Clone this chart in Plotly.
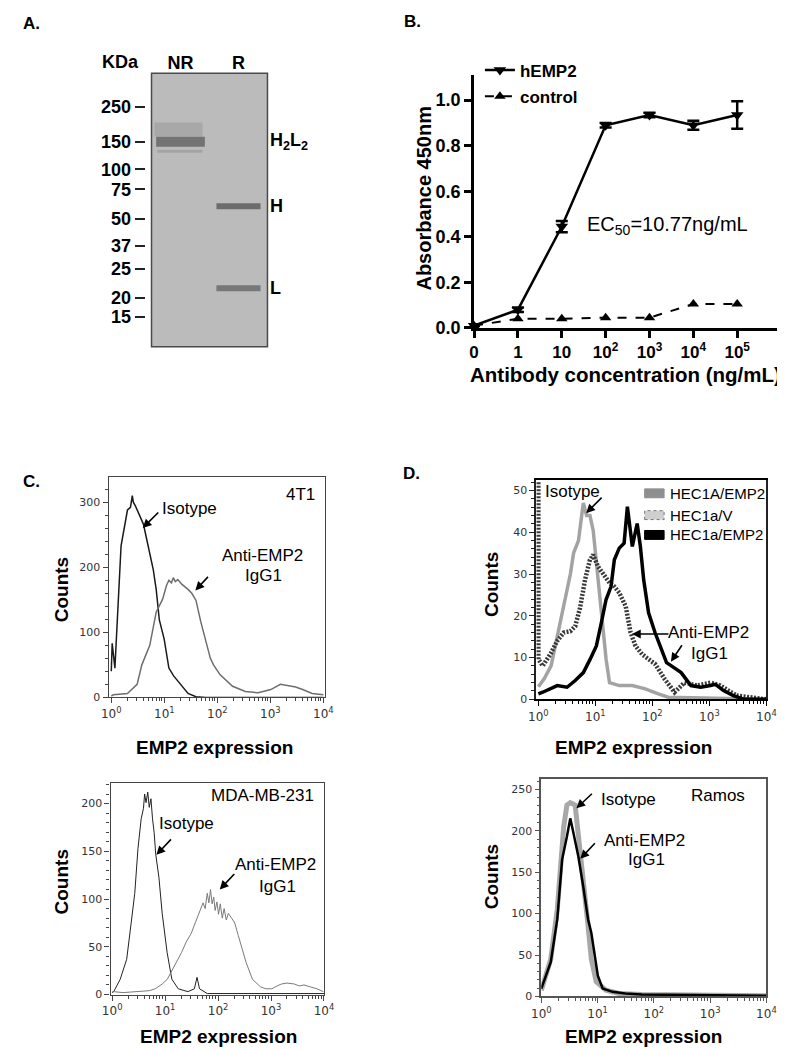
import plotly.graph_objects as go

W, H = 785, 1050

# ---------------- Panel A: SDS-PAGE gel ----------------
ladder_kda = [250, 150, 100, 75, 50, 37, 25, 20, 15]
ladder_rf = [0.123, 0.250, 0.351, 0.424, 0.533, 0.630, 0.714, 0.822, 0.891]
lane_names = ["NR", "R"]
band_lane = [0, 1, 1]
band_rf = [0.250, 0.486, 0.786]
band_names = ["H<sub>2</sub>L<sub>2</sub>", "H", "L"]
nr_smear_rf = [0.205, 0.285]

# ---------------- Panel B: ELISA ----------------
conc_labels = ["0", "1", "10", "10<sup>2</sup>", "10<sup>3</sup>", "10<sup>4</sup>", "10<sup>5</sup>"]
hemp2_abs = [0.01, 0.08, 0.445, 0.89, 0.935, 0.89, 0.935]
hemp2_err = [0.0, 0.01, 0.025, 0.01, 0.01, 0.02, 0.06]
control_abs = [0.01, 0.04, 0.04, 0.045, 0.045, 0.105, 0.105]

# ---------------- Panel C top: 4T1 ----------------
c1_iso_x = [1.0, 1.04, 1.17, 1.34, 1.53, 2.02, 2.3, 2.49, 2.6, 2.86, 3.4, 4.05, 4.6, 5.32, 6.2, 7.03, 8.06, 9.92, 12.2, 15.0, 18.5, 28.0, 39.6, 60, 10000]
c1_iso_y = [40, 83, 45, 141, 233, 288, 292, 310, 300, 294, 280, 266, 245, 222, 196, 166, 119, 90, 45, 33, 24, 6, 1, 0, 0]
c1_anti_x = [1.0, 1.09, 2.02, 3.07, 3.77, 5.32, 7.03, 9.29, 11.0, 12.2, 13.6, 14.8, 16.1, 18.0, 21.3, 24.5, 28.0, 33.0, 39.6, 48.8, 60.0, 73.9, 84.7, 112, 194, 337, 588, 1021, 1545, 1800, 2340, 3000, 4064, 6150, 10000]
c1_anti_y = [2, 4, 6, 20, 50, 80, 131, 151, 172, 180, 176, 184, 178, 181, 174, 170, 166, 160, 149, 116, 90, 60, 50, 35, 17, 9, 7, 12, 20, 19, 18, 16, 12, 6, 4]

# ---------------- Panel C bottom: MDA-MB-231 ----------------
c2_iso_x = [1.0, 1.07, 1.42, 1.88, 2.32, 2.67, 3.07, 3.3, 3.53, 3.9, 4.1, 4.36, 4.7, 5.01, 5.4, 5.78, 6.2, 6.64, 7.62, 8.80, 10.9, 13.4, 17.7, 26.9, 35.7, 40.0, 44.6, 62.4, 10000]
c2_iso_y = [2, 3, 16, 37, 78, 106, 153, 170, 184, 195, 210, 201, 212, 196, 205, 184, 170, 147, 123, 85, 44, 16, 6, 3, 6, 18, 6, 1, 1]
c2_anti_x = [1.0, 1.07, 1.6, 2.49, 3.5, 5.01, 6.5, 8.8, 11.0, 13.4, 16.5, 20.4, 25.0, 31.1, 37.0, 44.0, 52.0, 57.0, 62.4, 67.0, 72.0, 77.0, 82.8, 88.0, 95.0, 102, 110, 120, 130, 143, 156, 180, 206, 240, 272, 336, 445, 631, 800, 1032, 1300, 1570, 2000, 2750, 3400, 4190, 5500, 7360, 9700]
c2_anti_y = [3, 3, 2, 3, 3, 4, 6, 11, 16, 25, 35, 44, 55, 64, 75, 85, 96, 90, 106, 96, 110, 95, 102, 88, 97, 84, 95, 80, 90, 78, 85, 80, 75, 62, 51, 34, 16, 8, 6, 6, 9, 11, 12, 11, 9, 10, 8, 6, 3]

# ---------------- Panel D top: HEC1a ----------------
d1_iso_x = [1.0, 1.27, 1.67, 2.14, 2.79, 3.64, 4.14, 5.05, 5.75, 6.15, 7.01, 8.02, 9.14, 10.4, 11.9, 13.6, 15.4, 17.7, 26.2, 44.4, 75.0, 127, 189, 10000]
d1_iso_y = [3, 5, 8, 15, 22, 30, 35, 38, 44, 47, 44, 44, 40.5, 33, 25.5, 17.5, 9.6, 4, 3.3, 3.3, 2.5, 1.3, 0.5, 0]
d1_v_x = [1.0, 1.0, 1.19, 1.65, 2.14, 2.79, 3.64, 4.43, 5.40, 6.58, 8.02, 9.14, 11.1, 13.6, 17.7, 21.5, 26.2, 34.0, 41.4, 50.5, 65.8, 85.7, 111, 165, 245, 364, 618, 1045, 1550, 3000, 10000]
d1_v_y = [52, 9.6, 8, 11, 14, 16, 16.3, 17.5, 22, 28.6, 33.4, 34.6, 31.8, 30.2, 27.9, 27, 25.5, 22.3, 16, 12.8, 10.8, 9.6, 8.5, 4.8, 1.7, 4, 3.3, 4, 3.3, 0.9, 0]
d1_anti_x = [1.0, 1.19, 2.14, 3.18, 4.43, 6.15, 8.02, 10.4, 12.7, 15.4, 18.8, 21.5, 26.2, 31.9, 36.4, 44.4, 54.0, 61.5, 70.3, 85.7, 111, 136, 177, 215, 319, 474, 703, 1045, 1274, 1766, 2624, 3890, 10000]
d1_anti_y = [1.3, 1.7, 3.3, 2.9, 4.5, 6.4, 9.5, 12.8, 18.3, 23.9, 27, 33.4, 36.2, 37.4, 46.1, 36.6, 42.1, 36.6, 28.6, 20.7, 16, 12.8, 8.8, 8, 6.4, 3.3, 2.9, 3.3, 3.6, 2.1, 0.9, 0.1, 0]

# ---------------- Panel D bottom: Ramos ----------------
d2_iso_x = [1.0, 1.47, 1.92, 2.19, 2.50, 2.85, 3.27, 3.99, 4.55, 5.19, 5.94, 6.78, 7.73, 9.44, 14.1, 24.0, 60.8, 10000]
d2_iso_y = [7.5, 45, 105, 165, 205, 231, 234, 231, 197, 165, 125, 85, 45, 18, 7.5, 3.6, 2.4, 1]
d2_anti_x = [1.0, 1.47, 1.92, 2.34, 2.85, 3.27, 3.73, 4.55, 5.55, 6.78, 7.73, 8.86, 10.1, 12.3, 18.4, 31.2, 60.8, 10000]
d2_anti_y = [9.6, 41.5, 93, 165, 193, 215, 197, 169, 133, 93, 77, 53, 25, 9.6, 5.6, 3.6, 2.4, 1]

facs_ticks = [1, 10, 100, 1000, 10000]
facs_ticktext = ["10<sup>0</sup>", "10<sup>1</sup>", "10<sup>2</sup>", "10<sup>3</sup>", "10<sup>4</sup>"]
facs_minor = [m * 10 ** e for e in range(4) for m in range(2, 10)]

FONT = "Arial, 'Liberation Sans', sans-serif"
TICKFONT = dict(family="DejaVu Sans", size=11, color="#333")


def px(a):
    return a / W


def py(b):
    return 1 - b / H


def xd(a, b):
    return [px(a), px(b)]


def yd(top, bottom):
    return [py(bottom), py(top)]


fig = go.Figure()

# ---- gel bands ----
band_halfwidth = [0.42, 0.38, 0.38]
band_color = ["#737373", "#6c6c6c", "#777777"]
band_width = [10, 6, 6]
fig.add_trace(go.Scatter(x=[band_lane[0] - 0.45, band_lane[0] + 0.38], y=[nr_smear_rf[0]] * 2,
                         mode="lines", line=dict(color="#a8a8a8", width=14), xaxis="x", yaxis="y",
                         showlegend=False, hoverinfo="skip"))
fig.add_trace(go.Scatter(x=[band_lane[0] - 0.4, band_lane[0] + 0.38], y=[nr_smear_rf[1]] * 2,
                         mode="lines", line=dict(color="#a4a4a4", width=3), xaxis="x", yaxis="y",
                         showlegend=False, hoverinfo="skip"))
for ln, rf, hw, c, w in zip(band_lane, band_rf, band_halfwidth, band_color, band_width):
    fig.add_trace(go.Scatter(x=[ln - hw, ln + hw], y=[rf, rf], mode="lines",
                             line=dict(color=c, width=w), xaxis="x", yaxis="y",
                             showlegend=False, hoverinfo="skip"))

# ---- ELISA ----
xcat = list(range(len(conc_labels)))
fig.add_trace(go.Scatter(x=xcat, y=hemp2_abs, name="hEMP2", mode="lines+markers",
                         line=dict(color="black", width=2.5),
                         marker=dict(symbol="triangle-down", size=11, color="black"),
                         error_y=dict(type="data", array=hemp2_err, color="black", thickness=2.5, width=6),
                         xaxis="x2", yaxis="y2", cliponaxis=False, legendgroup="a"))
fig.add_trace(go.Scatter(x=xcat, y=control_abs, name="control", mode="lines+markers",
                         line=dict(color="black", width=2, dash="dash"),
                         marker=dict(symbol="triangle-up", size=10, color="black"),
                         xaxis="x2", yaxis="y2", cliponaxis=False, legendgroup="b"))

# ---- FACS C ----
fig.add_trace(go.Scatter(x=c1_iso_x, y=c1_iso_y, mode="lines", line=dict(color="#1a1a1a", width=1.5),
                         xaxis="x3", yaxis="y3", showlegend=False))
fig.add_trace(go.Scatter(x=c1_anti_x, y=c1_anti_y, mode="lines", line=dict(color="#6e6e6e", width=1.5),
                         xaxis="x3", yaxis="y3", showlegend=False))
fig.add_trace(go.Scatter(x=c2_iso_x, y=c2_iso_y, mode="lines", line=dict(color="#222", width=1),
                         xaxis="x4", yaxis="y4", showlegend=False))
fig.add_trace(go.Scatter(x=c2_anti_x, y=c2_anti_y, mode="lines", line=dict(color="#7a7a7a", width=1),
                         xaxis="x4", yaxis="y4", showlegend=False))

# ---- FACS D ----
fig.add_trace(go.Scatter(x=d1_iso_x, y=d1_iso_y, mode="lines", line=dict(color="#a3a3a3", width=3.5),
                         xaxis="x5", yaxis="y5", showlegend=False))
fig.add_trace(go.Scatter(x=d1_v_x, y=d1_v_y, mode="lines", line=dict(color="#3a3a3a", width=4.5, dash="2px,1.5px"),
                         xaxis="x5", yaxis="y5", showlegend=False))
fig.add_trace(go.Scatter(x=d1_anti_x, y=d1_anti_y, mode="lines", line=dict(color="black", width=3.5),
                         xaxis="x5", yaxis="y5", showlegend=False))
fig.add_trace(go.Scatter(x=d2_iso_x, y=d2_iso_y, mode="lines", line=dict(color="#a8a8a8", width=5),
                         xaxis="x6", yaxis="y6", showlegend=False))
fig.add_trace(go.Scatter(x=d2_anti_x, y=d2_anti_y, mode="lines", line=dict(color="black", width=2.5),
                         xaxis="x6", yaxis="y6", showlegend=False))


def facs_x(dom, anchor, rng, lc, lw):
    return dict(type="log", domain=dom, range=rng, anchor=anchor, tickmode="array",
                tickvals=facs_ticks, ticktext=facs_ticktext, ticks="outside", ticklen=5,
                tickcolor=lc, showline=True, mirror=True, linecolor=lc, linewidth=lw,
                minor=dict(ticks="outside", ticklen=3, tickmode="array", tickvals=facs_minor, tickcolor=lc),
                tickfont=dict(family="DejaVu Sans", size=12, color="#333"),
                showgrid=False, zeroline=False)


def facs_y(dom, anchor, rng, dt, mdt, lc, lw):
    return dict(domain=dom, range=rng, anchor=anchor, dtick=dt, tick0=0, ticks="outside", ticklen=5,
                tickcolor=lc, showline=True, mirror=True, linecolor=lc, linewidth=lw,
                minor=dict(ticks="outside", ticklen=3, dtick=mdt, tickcolor=lc),
                tickfont=TICKFONT, showgrid=False, zeroline=False)


fig.update_layout(
    width=W, height=H, margin=dict(l=0, r=0, t=0, b=0),
    paper_bgcolor="white", plot_bgcolor="rgba(0,0,0,0)",
    font=dict(family=FONT, color="black"),
    showlegend=True,
    legend=dict(x=px(474), y=py(45), xanchor="left", yanchor="top",
                font=dict(size=17, weight="bold", family=FONT), bgcolor="rgba(0,0,0,0)",
                tracegroupgap=1, itemwidth=30),
    # gel
    xaxis=dict(domain=xd(137, 256), range=[-0.5, 1.5], anchor="y", side="top", tickmode="array",
               tickvals=[0, 1], ticktext=lane_names, ticks="", showline=False, showgrid=False,
               zeroline=False, tickfont=dict(size=18, weight="bold", family=FONT)),
    yaxis=dict(domain=yd(66, 342), range=[1, 0], anchor="free", position=px(130), tickmode="array",
               tickvals=ladder_rf, ticktext=[str(k) for k in ladder_kda], ticks="outside", ticklen=10,
               tickwidth=2, tickcolor="#222", showline=False, showgrid=False, zeroline=False,
               tickfont=dict(size=18, weight="bold", family=FONT)),
    # ELISA
    xaxis2=dict(domain=xd(468, 783), range=[0, 7], anchor="y2", tickmode="array", tickvals=xcat,
                ticktext=conc_labels, ticks="outside", ticklen=7, tickwidth=3, tickcolor="black",
                showline=True, linewidth=3, linecolor="black", showgrid=False, zeroline=False,
                tickfont=dict(size=17, weight="bold", family=FONT)),
    yaxis2=dict(domain=yd(68, 323), range=[0, 1.109], anchor="x2", tickmode="array",
                tickvals=[0, 0.2, 0.4, 0.6, 0.8, 1.0], ticktext=["0.0", "0.2", "0.4", "0.6", "0.8", "1.0"],
                ticks="outside", ticklen=7, tickwidth=3, tickcolor="black",
                showline=True, linewidth=3, linecolor="black", showgrid=False, zeroline=False,
                tickfont=dict(size=18, weight="bold", family=FONT)),
    xaxis3=facs_x(xd(93, 315), "y3", [-0.05, 4.03], "#444", 1.2),
    yaxis3=facs_y(yd(474, 696), "x3", [0, 338], 100, 20, "#444", 1.2),
    xaxis4=facs_x(xd(95, 314), "y4", [-0.03, 4.0], "#444", 1.2),
    yaxis4=facs_y(yd(782, 996), "x4", [0, 222], 50, 10, "#444", 1.2),
    xaxis5=facs_x(xd(532, 768), "y5", [-0.034, 4.0], "black", 2),
    yaxis5=facs_y(yd(477, 698), "x5", [0, 52.4], 10, 2, "#222", 2),
    xaxis6=facs_x(xd(537, 768), "y6", [0, 4.0], "#555", 1.5),
    yaxis6=facs_y(yd(778, 998), "x6", [0, 263], 50, 10, "#555", 1.5),
)

# gel background
fig.add_shape(type="rect", xref="x domain", yref="y domain", x0=0, x1=1, y0=0, y1=1,
              fillcolor="#bbbbbb", line=dict(color="#4a4a4a", width=1.5), layer="below")

# D legend swatches
leg_rows = [490, 512, 532]
leg_fill = ["#8f8f8f", "#cfcfcf", "black"]
leg_line = ["#8f8f8f", "#777", "black"]
leg_names = ["HEC1A/EMP2", "HEC1a/V", "HEC1a/EMP2"]
for yy, fc, lc in zip(leg_rows, leg_fill, leg_line):
    fig.add_shape(type="rect", xref="paper", yref="paper", x0=px(643), x1=px(663),
                  y0=py(yy + 4.5), y1=py(yy - 4.5), fillcolor=fc,
                  line=dict(color=lc, width=1, dash="dot" if fc == "#cfcfcf" else "solid"))


def txt(x, y, s, size=17, bold=False, xanchor="center", angle=0, color="black"):
    return dict(x=px(x), y=py(y), xref="paper", yref="paper", text=s, showarrow=False,
                font=dict(size=size, color=color, family=FONT, weight="bold" if bold else "normal"),
                xanchor=xanchor, yanchor="middle", textangle=angle)


def arrow(hx, hy, tx, ty):
    return dict(x=px(hx), y=py(hy), xref="paper", yref="paper", ax=tx - hx, ay=ty - hy,
                axref="pixel", ayref="pixel", showarrow=True, arrowhead=2, arrowsize=1.1,
                arrowwidth=1.6, arrowcolor="black", text="")


ann = [
    txt(14, 16, "A.", 17, True),
    txt(405, 14, "B.", 17, True),
    txt(14, 478, "C.", 17, True),
    txt(404, 470, "D.", 17, True),
    txt(105, 55, "KDa", 18, True),
    # Panel B
    txt(417, 192, "Absorbance 450nm", 20, True, angle=-90),
    txt(623, 370, "Antibody concentration (ng/mL)", 20.5, True),
    txt(666, 220, "EC<sub>50</sub>=10.77ng/mL", 20, False),
    # Panel C top
    txt(307, 491, "4T1", 17, xanchor="right"),
    txt(176, 505, "Isotype", 17),
    txt(251, 553, "Anti-EMP2", 17),
    txt(252, 573, "IgG1", 17),
    txt(45, 587, "Counts", 19, True, angle=-90),
    txt(202, 747, "EMP2 expression", 19, True),
    arrow(128, 525, 145, 508),
    arrow(182, 588, 196, 573),
    # Panel C bottom
    txt(306, 795, "MDA-MB-231", 17, xanchor="right"),
    txt(173, 823, "Isotype", 17),
    txt(264, 865, "Anti-EMP2", 17),
    txt(266, 887, "IgG1", 17),
    txt(45, 882, "Counts", 19, True, angle=-90),
    txt(206, 1038, "EMP2 expression", 19, True),
    arrow(142, 855, 158, 838),
    arrow(207, 890, 223, 873),
    # Panel D top
    txt(569, 488, "Isotype", 17),
    txt(709, 631, "Anti-EMP2", 17),
    txt(710, 652, "IgG1", 17),
    txt(486, 582, "Counts", 19, True, angle=-90),
    txt(632, 747, "EMP2 expression", 19, True),
    arrow(583, 510, 600, 493),
    arrow(630, 632, 668, 632),
    arrow(670, 660, 682, 642),
    # Panel D bottom
    txt(748, 795, "Ramos", 17, xanchor="right"),
    txt(626, 799, "Isotype", 17),
    txt(643, 840, "Anti-EMP2", 17),
    txt(645, 860, "IgG1", 17),
    txt(486, 877, "Counts", 19, True, angle=-90),
    txt(642, 1038, "EMP2 expression", 19, True),
    arrow(573, 808, 590, 792),
    arrow(577, 859, 593, 842),
]
for yy, nm in zip(leg_rows, leg_names):
    ann.append(txt(667, yy, nm, 15, xanchor="left"))
for rf, nm in zip(band_rf, band_names):
    ann.append(dict(x=1.5, y=rf, xref="x", yref="y", text=nm, showarrow=False, xanchor="left",
                    yanchor="middle", xshift=1, font=dict(size=18, weight="bold", family=FONT, color="black")))

fig.update_layout(annotations=ann)
fig.write_html("out.html")
